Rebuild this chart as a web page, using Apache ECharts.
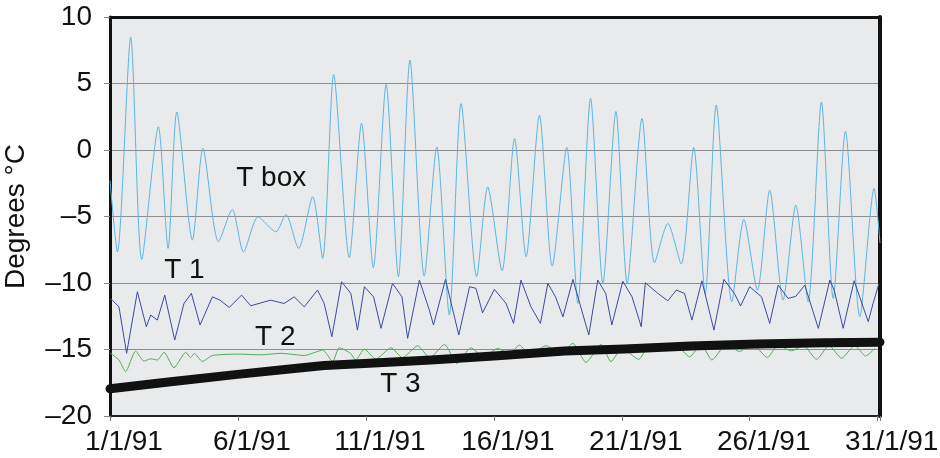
<!DOCTYPE html>
<html>
<head>
<meta charset="utf-8">
<script src="https://cdn.jsdelivr.net/npm/echarts@6/dist/echarts.min.js"></script>
<style>
  html, body { margin: 0; padding: 0; background: #fff; }
  #chart { width: 940px; height: 458px; }
</style>
</head>
<body>
<div id="chart"></div>
<script>
// day of January 1991 (fractional) and temperature readings
const tboxDays = [1.0, 1.29, 1.81, 2.24, 2.89, 3.27, 3.61, 4.22, 4.63, 5.24, 5.78, 6.22, 6.79, 7.48, 7.87, 8.37,
  8.92, 9.31, 9.74, 10.35, 10.83, 11.29, 11.79, 12.27, 12.72, 13.28, 13.77, 14.26, 14.72, 15.33, 15.76,
  16.32, 16.81, 17.26, 17.78, 18.28, 18.85, 19.28, 19.78, 20.26, 20.77, 21.21, 21.79, 22.28, 22.8, 23.32,
  23.81, 24.26, 24.69, 25.3, 25.77, 26.3, 26.78, 27.3, 27.8, 28.28, 28.8, 29.26, 29.74, 30.3, 30.86, 31.09];
const tboxVals = [-2.3, -7.66, 8.5, -8.23, 1.74, -7.4, 2.86, -6.78, 0.11, -6.9, -4.47, -7.66, -5.03, -6.15, -4.85, -7.4,
  -3.52, -8.15, 5.67, -8.08, 2.0, -8.85, 4.92, -9.53, 6.75, -9.48, 0.23, -12.41, 3.49, -9.53, -2.77,
  -9.08, 0.86, -8.03, 2.61, -8.73, 0.19, -11.53, 3.87, -10.03, 2.9, -10.03, 2.37, -8.48, -5.52, -8.58,
  0.19, -10.83, 3.37, -11.41, -5.22, -10.53, -3.02, -11.28, -4.15, -11.41, 3.61, -11.16, 1.41, -12.54, -2.89, -7.0];

const t1Days = [1.0, 1.09, 1.35, 1.65, 2.07, 2.42, 2.59, 2.85, 3.14, 3.53, 3.89, 4.18, 4.52, 5.0, 5.3, 5.66, 6.14,
  6.5, 7.28, 7.8, 8.2, 8.59, 9.11, 9.37, 9.67, 10.05, 10.41, 10.67, 10.94, 11.3, 11.59, 12.04, 12.41,
  12.63, 13.09, 13.48, 13.64, 14.11, 14.63, 15.05, 15.3, 15.56, 16.02, 16.48, 16.77, 17.06, 17.45, 17.82,
  18.11, 18.41, 18.7, 19.09, 19.71, 20.06, 20.37, 20.61, 21.04, 21.4, 21.76, 21.92, 22.41, 22.8, 23.13,
  23.45, 23.74, 24.13, 24.6, 24.99, 25.4, 25.64, 26.0, 26.46, 26.78, 27.11, 27.5, 27.8, 28.15, 28.68,
  29.13, 29.3, 29.65, 30.08, 30.63, 30.82, 31.05];
const t1Vals = [-11.2, -11.29, -11.79, -15.29, -10.66, -13.29, -12.41, -12.79, -10.91, -14.29, -11.54, -10.78, -13.16, -11.04, -11.29, -11.84, -10.91,
  -11.71, -11.29, -11.54, -11.04, -11.79, -10.53, -11.54, -14.04, -9.91, -10.78, -13.54, -10.28, -11.04, -13.41, -10.03, -11.04,
  -14.16, -9.78, -12.04, -13.16, -9.73, -13.91, -10.28, -10.4, -12.24, -10.48, -11.54, -13.04, -9.78, -11.79, -13.04,
  -10.03, -11.04, -12.54, -9.73, -13.91, -9.78, -10.78, -13.16, -9.87, -11.04, -13.29, -9.98, -10.78, -11.34, -10.53,
  -10.78, -12.79, -9.83, -13.54, -9.73, -10.78, -11.73, -10.28, -11.04, -13.04, -10.16, -11.16, -11.0, -10.16, -13.41,
  -9.78, -10.53, -13.41, -9.83, -12.91, -11.54, -10.03];

const t2Days = [1.0, 1.35, 1.61, 2.0, 2.33, 2.6, 2.85, 3.11, 3.5, 3.96, 4.15, 4.3, 4.61, 5.0, 6.0, 6.9, 7.68, 8.6,
  9.31, 9.7, 9.96, 10.4, 10.6, 10.94, 11.39, 11.98, 12.43, 13.02, 13.5, 14.07, 14.56, 15.1, 15.6, 16.15,
  16.6, 17.0, 17.4, 18.04, 18.6, 19.09, 19.6, 20.19, 20.58, 21.0, 21.66, 22.1, 22.7, 23.1, 23.65, 24.1,
  24.52, 25.1, 25.6, 26.1, 26.69, 27.1, 27.63, 28.1, 28.61, 29.1, 29.59, 30.1, 30.53, 30.9];
const t2Vals = [-15.25, -15.79, -16.67, -15.12, -15.87, -15.7, -15.79, -15.21, -16.37, -15.21, -15.6, -15.3, -15.9, -15.45, -15.35, -15.4, -15.29, -15.45,
  -15.04, -15.9, -14.87, -15.29, -15.79, -14.97, -15.72, -14.87, -15.62, -14.72, -15.62, -14.62, -16.05, -14.87, -15.55, -14.92,
  -15.3, -14.67, -15.4, -14.72, -15.3, -14.54, -15.97, -14.62, -15.92, -14.9, -15.74, -14.6, -15.0, -14.65, -15.55, -14.6,
  -15.79, -14.6, -15.16, -14.6, -15.6, -14.7, -15.1, -14.7, -15.74, -14.7, -15.66, -14.7, -15.49, -14.9];

const t3Days = [1.0, 3.37, 5.98, 8.59, 9.37, 10.94, 13.54, 16.15, 18.76, 21.1, 23.7, 26.3, 28.9, 31.09];
const t3Vals = [-17.95, -17.42, -16.87, -16.35, -16.2, -16.05, -15.79, -15.47, -15.12, -14.96, -14.74, -14.59, -14.49, -14.45];

// series label anchors (day, value)
const labelNames = ['T box', 'T 1', 'T 2', 'T 3'];
const labelDays = [7.3, 3.91, 7.46, 12.35];
const labelVals = [-2.16, -9.03, -14.1, -17.6];

const yTicks = [-20, -15, -10, -5, 0, 5, 10];

const zip = (xs, ys) => xs.map((x, i) => [x, ys[i]]);
const font = '"Liberation Sans", Arial, sans-serif';

function seriesLabel(i) {
  return {
    symbol: 'circle',
    symbolSize: 0,
    silent: true,
    label: {
      show: true,
      position: 'inside',
      formatter: labelNames[i],
      color: '#111',
      fontSize: 28,
      fontFamily: font
    },
    data: [{ coord: [labelDays[i], labelVals[i]] }]
  };
}

const chart = echarts.init(document.getElementById('chart'));

chart.setOption({
  animation: false,
  grid: {
    show: true,
    left: 110,
    right: 60,
    top: 17,
    bottom: 42,
    outerBoundsMode: 'none',
    containLabel: false,
    backgroundColor: '#e9eaeb',
    borderWidth: 0
  },
  xAxis: [
    {
      type: 'value',
      min: 1,
      max: 31.09,
      interval: 5,
      axisLine: { show: true, onZero: false, lineStyle: { color: '#222', width: 2 } },
      axisTick: { show: true, length: 5, lineStyle: { color: '#777' } },
      axisLabel: {
        color: '#111',
        fontSize: 28,
        fontFamily: font,
        margin: 12,
        padding: [0, 0, 0, 28],
        formatter: v => Number.isInteger(v) ? v + '/1/91' : ''
      },
      splitLine: { show: false }
    },
    {
      type: 'value',
      position: 'top',
      min: 1,
      max: 31.09,
      axisLine: { show: true, onZero: false, lineStyle: { color: '#111', width: 3 } },
      axisTick: { show: false },
      axisLabel: { show: false },
      splitLine: { show: false }
    }
  ],
  yAxis: [
    {
      type: 'value',
      min: yTicks[0],
      max: yTicks[yTicks.length - 1],
      interval: 5,
      name: 'Degrees °C',
      nameLocation: 'middle',
      nameRotate: 90,
      nameGap: 80,
      nameTextStyle: { color: '#111', fontSize: 28, fontFamily: font },
      axisLine: { show: true, onZero: false, lineStyle: { color: '#111', width: 3 } },
      axisTick: { show: true, inside: false, length: 6, lineStyle: { color: '#888' } },
      axisLabel: {
        color: '#111',
        fontSize: 28,
        fontFamily: font,
        margin: 18,
        formatter: v => String(v).replace('-', '\u2013')
      },
      splitLine: { show: true, lineStyle: { color: '#8e8e8e', width: 1.2 } }
    },
    {
      type: 'value',
      position: 'right',
      min: yTicks[0],
      max: yTicks[yTicks.length - 1],
      axisLine: { show: true, onZero: false, lineStyle: { color: '#111', width: 4 } },
      axisTick: { show: false },
      axisLabel: { show: false },
      splitLine: { show: false }
    }
  ],
  series: [
    {
      name: 'T box',
      type: 'line',
      data: zip(tboxDays, tboxVals),
      showSymbol: false,
      smooth: 0.25,
      lineStyle: { color: '#5cb5e2', width: 1 },
      markPoint: seriesLabel(0)
    },
    {
      name: 'T 1',
      type: 'line',
      data: zip(t1Days, t1Vals),
      showSymbol: false,
      lineStyle: { color: '#3a4b9f', width: 1 },
      markPoint: seriesLabel(1)
    },
    {
      name: 'T 2',
      type: 'line',
      data: zip(t2Days, t2Vals),
      showSymbol: false,
      smooth: 0.2,
      lineStyle: { color: '#4fae55', width: 1 },
      markPoint: seriesLabel(2)
    },
    {
      name: 'T 3',
      type: 'line',
      data: zip(t3Days, t3Vals),
      showSymbol: false,
      clip: false,
      lineStyle: { color: '#111', width: 9, cap: 'round', join: 'round' },
      markPoint: seriesLabel(3)
    }
  ]
});
</script>
</body>
</html>
